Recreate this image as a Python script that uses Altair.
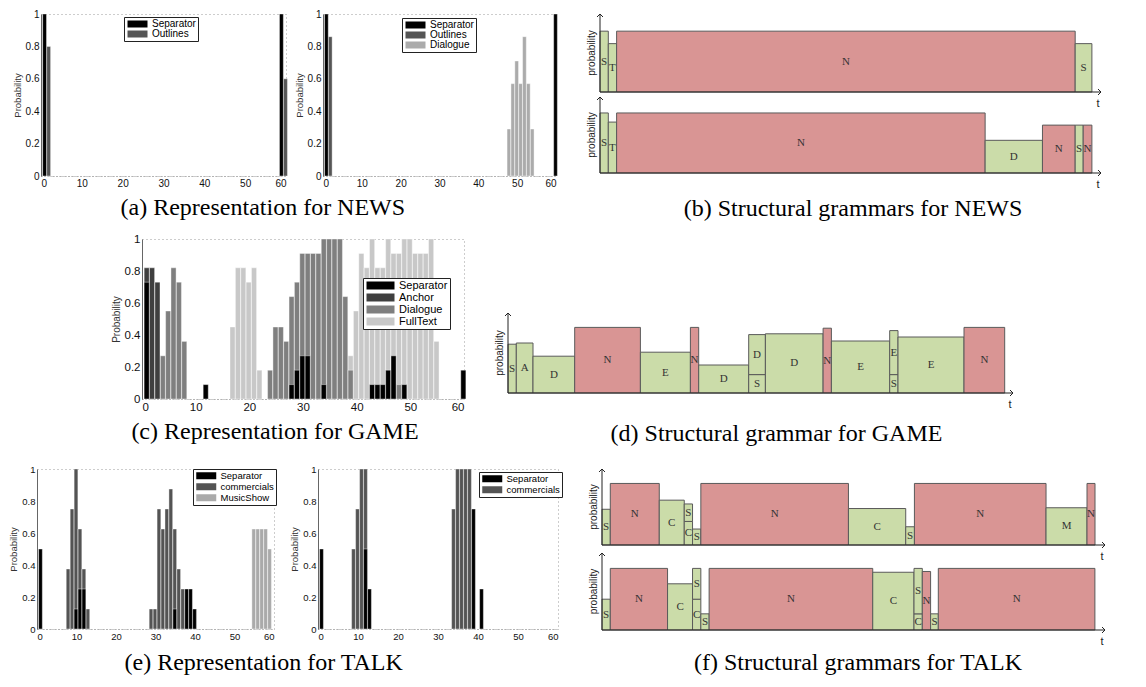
import altair as alt
import pandas as pd

SANS = "Liberation Sans"
SERIF = "Liberation Serif"

# ---------------- bar-chart data (bin index -> probability) ----------------
# (a) NEWS, left panel
a1_sep_bins = [1, 59]
a1_sep_p = [1.0, 1.0]
a1_out_bins = [2, 60]
a1_out_p = [0.8, 0.6]
# (a) NEWS, right panel
a2_sep_bins = [1, 60]
a2_sep_p = [1.0, 1.0]
a2_out_bins = [2]
a2_out_p = [0.86]
a2_dia_bins = [48, 49, 50, 51, 52, 53, 54]
a2_dia_p = [0.29, 0.57, 0.71, 0.57, 0.86, 0.57, 0.29]
# (c) GAME
c_sep_bins = [1, 12, 28, 29, 30, 31, 34, 43, 44, 45, 46, 47, 49, 60]
c_sep_p = [0.73, 0.09, 0.09, 0.18, 0.27, 0.27, 0.09, 0.09, 0.09, 0.09, 0.18, 0.27, 0.09, 0.18]
c_anc_bins = [1, 2, 3]
c_anc_p = [0.82, 0.82, 0.73]
c_dia_bins = [4, 5, 6, 7, 8, 24, 25, 26, 27, 28, 29, 30, 31, 32, 33, 34, 35, 36, 37, 38, 39, 48]
c_dia_p = [0.27, 0.55, 0.82, 0.73, 0.36, 0.18, 0.45, 0.45, 0.36, 0.64, 0.73, 0.91, 0.91, 0.91,
           0.91, 1.0, 1.0, 1.0, 1.0, 0.64, 0.18, 0.09]
c_ful_bins = [17, 18, 19, 20, 21, 22, 39, 40, 41, 42, 43, 44, 45, 46, 47, 48, 49, 50, 51, 52,
              53, 54, 55]
c_ful_p = [0.45, 0.82, 0.82, 0.73, 0.82, 0.18, 0.27, 0.55, 0.91, 0.82, 1.0, 0.82, 0.82, 1.0,
           0.91, 0.91, 1.0, 1.0, 0.91, 0.91, 0.91, 1.0, 0.36]
# (e) TALK, left panel
e1_sep_bins = [1, 10, 11, 12, 35, 38, 39, 40]
e1_sep_p = [0.5, 0.125, 0.25, 0.25, 0.125, 0.25, 0.25, 0.125]
e1_com_bins = [8, 9, 10, 11, 12, 13, 29, 30, 31, 32, 33, 34, 35, 36, 37, 38, 39, 40]
e1_com_p = [0.375, 0.75, 1.0, 0.625, 0.375, 0.125, 0.125, 0.125, 0.75, 0.625, 0.75, 0.875,
            0.625, 0.375, 0.25, 0.25, 0.125, 0.125]
e1_mus_bins = [55, 56, 57, 58, 59]
e1_mus_p = [0.625, 0.625, 0.625, 0.625, 0.5]
# (e) TALK, right panel
e2_sep_bins = [1, 12, 13, 39, 41]
e2_sep_p = [0.5, 0.5, 0.25, 0.75, 0.25]
e2_com_bins = [9, 10, 11, 12, 34, 35, 36, 37, 38]
e2_com_p = [0.5, 0.75, 1.0, 1.0, 0.75, 1.0, 1.0, 1.0, 1.0]

x_ticks = [0, 10, 20, 30, 40, 50, 60]
y_ticks = [0, 0.2, 0.4, 0.6, 0.8, 1.0]

# ---------------- structural grammar data ----------------
# labels, column index (stacked items share a column), column durations, probabilities
b1_labels = ["S", "T", "N", "S"]
b1_cols = [0, 1, 2, 3]
b1_dur = [8.3, 8.3, 458.3, 16.7]
b1_prob = [0.78, 0.62, 0.78, 0.62]
b_tmax = 500.7

b2_labels = ["S", "T", "N", "D", "N", "S", "N"]
b2_cols = [0, 1, 2, 3, 4, 5, 6]
b2_dur = [8.3, 8.3, 368.3, 57.3, 32.7, 8.0, 8.7]
b2_prob = [0.79, 0.67, 0.79, 0.43, 0.63, 0.63, 0.63]

d_labels = ["S", "A", "D", "N", "E", "N", "D", "S", "D", "D", "N", "E", "S", "E", "E", "N"]
d_cols = [0, 1, 2, 3, 4, 5, 6, 7, 7, 8, 9, 10, 11, 11, 12, 13]
d_dur = [8.3, 16.7, 41.7, 65.7, 50, 8.3, 50, 16.7, 57.7, 8.3, 58.3, 8.3, 66, 40.7]
d_prob = [0.61, 0.625, 0.46, 0.82, 0.51, 0.82, 0.35, 0.23, 0.50, 0.74, 0.81, 0.65, 0.23, 0.55,
          0.70, 0.82]
d_tmax = 505.0

f1_labels = ["S", "N", "C", "C", "S", "S", "N", "C", "S", "N", "M", "N"]
f1_cols = [0, 1, 2, 3, 3, 4, 5, 6, 7, 8, 9, 10]
f1_dur = [8.3, 49, 25, 8.3, 8.3, 147.7, 57.3, 8.7, 131.7, 41, 8]
f1_prob = [0.47, 0.81, 0.59, 0.31, 0.23, 0.21, 0.81, 0.48, 0.24, 0.81, 0.49, 0.81]

f2_labels = ["S", "N", "C", "C", "S", "S", "N", "C", "C", "S", "N", "S", "N"]
f2_cols = [0, 1, 2, 3, 3, 4, 5, 6, 7, 7, 8, 9, 10]
f2_dur = [8.3, 57.3, 25, 8.3, 8.3, 163.7, 41.3, 8.3, 8.3, 7.7, 156.7]
f2_prob = [0.40, 0.80, 0.60, 0.40, 0.40, 0.21, 0.80, 0.75, 0.21, 0.59, 0.76, 0.21, 0.80]
f_tmax = 503.3

# ---------------- styles ----------------
C_SEP = "#000000"
C_OUT = "#555555"
C_DIA_A = "#ababab"
C_ANC = "#3f3f3f"
C_DIA_C = "#7f7f7f"
C_FUL = "#c8c8c8"
C_COM = "#545454"
C_MUS = "#aaaaaa"
GREEN = "#cbdca9"
RED = "#d99594"
EDGE = "#5a5a5a"
AXC = "#222222"


def legend_params(sym_w, sym_h, font_size, lx, ly):
    half = sym_w / sym_h
    path = f"M-{half:.3f},-1H{half:.3f}V1H-{half:.3f}Z"
    shift = (sym_w - sym_h) / 2
    return alt.Legend(
        title=None, orient="none", legendX=lx, legendY=ly,
        symbolType=path, symbolSize=sym_h * sym_h, symbolStrokeWidth=0,
        symbolOffset=shift, labelOffset=shift + 3,
        labelFont=SANS, labelFontSize=font_size, labelColor="#000",
        strokeColor="#222", fillColor="white", padding=2, rowPadding=0,
        offset=0, cornerRadius=0, labelLimit=200,
    )


def bar_panel(series, width, height, lab_fs, ttl_fs, legend):
    names = [s[0] for s in series]
    colors = [s[3] for s in series]
    rows = []
    for k in range(len(series) - 1, -1, -1):  # back to front: Separator last
        name, bins, probs, _ = series[k]
        for b, p in zip(bins, probs):
            rows.append({"cat": name, "lo": b - 0.6, "hi": b + 0.35, "p": p})
    df = pd.DataFrame(rows)
    return alt.Chart(df).mark_rect(stroke="white", strokeWidth=0.4).encode(
        x=alt.X("lo:Q", scale=alt.Scale(domain=[0, 60], nice=False, zero=False),
                axis=alt.Axis(values=x_ticks, title=None, labelFont=SANS, labelFontSize=lab_fs,
                              labelColor="#111", ticks=False, grid=False, domainColor="#999",
                              domainDash=[1, 2], labelPadding=2)),
        x2="hi:Q",
        y=alt.Y("p:Q", scale=alt.Scale(domain=[0, 1], nice=False),
                axis=alt.Axis(values=y_ticks, format="~g", title="Probability",
                              titleFont=SANS, titleFontSize=ttl_fs, titleFontWeight="normal",
                              titleColor="#333", titlePadding=3, labelFont=SANS,
                              labelFontSize=lab_fs, labelColor="#111", ticks=False, grid=False,
                              domainColor="#666", labelPadding=2)),
        y2=alt.datum(0),
        color=alt.Color("cat:N", scale=alt.Scale(domain=names, range=colors), legend=legend),
    ).properties(width=width, height=height,
                 view=alt.ViewBackground(stroke="#9a9a9a", strokeDash=[1, 3], strokeWidth=1))


def grammar_panel(labels, cols, durs, probs, tmax, width, height, ymax):
    starts = [0.0]
    for w in durs:
        starts.append(starts[-1] + w)
    stack = {}
    rows = []
    for lab, col, p in zip(labels, cols, probs):
        y0 = stack.get(col, 0.0)
        y1 = y0 + p
        stack[col] = y1
        x0, x1 = starts[col], starts[col] + durs[col]
        rows.append({"label": lab, "x0": x0, "x1": x1, "y0": y0, "y1": y1,
                     "xm": (x0 + x1) / 2, "ym": (y0 + y1) / 2,
                     "fill": RED if lab == "N" else GREEN})
    df = pd.DataFrame(rows)
    ax = pd.DataFrame({"x0": [0.0], "x1": [tmax], "y0": [0.0], "y1": [1.0], "ym": [0.5]})
    xs = alt.Scale(domain=[0, tmax], nice=False, zero=False)
    ys = alt.Scale(domain=[0, ymax], nice=False, zero=False)

    def X(f):
        return alt.X(f, scale=xs, axis=None)

    def Y(f):
        return alt.Y(f, scale=ys, axis=None)

    rect = alt.Chart(df).mark_rect(stroke=EDGE, strokeWidth=1).encode(
        x=X("x0:Q"), x2="x1:Q", y=Y("y0:Q"), y2="y1:Q", fill=alt.Fill("fill:N", scale=None))
    txt = alt.Chart(df).mark_text(font=SERIF, fontSize=11, color="#333").encode(
        x=X("xm:Q"), y=Y("ym:Q"), text="label:N")
    xrule = alt.Chart(ax).mark_rule(color=AXC, strokeWidth=1).encode(
        x=X("x0:Q"), x2="x1:Q", y=Y("y0:Q"))
    yrule = alt.Chart(ax).mark_rule(color=AXC, strokeWidth=1).encode(
        x=X("x0:Q"), y=Y("y0:Q"), y2="y1:Q")
    up = alt.Chart(ax).mark_point(shape="M-1,1L0,0L1,1", size=36, filled=False, color=AXC,
                                  opacity=1, strokeWidth=1).encode(x=X("x0:Q"), y=Y("y1:Q"))
    right = alt.Chart(ax).mark_point(shape="M-1,-1L0,0L-1,1", size=36, filled=False, color=AXC,
                                     opacity=1, strokeWidth=1).encode(x=X("x1:Q"), y=Y("y0:Q"))
    ylab = alt.Chart(ax).mark_text(text="probability", angle=270, baseline="bottom", dy=-3,
                                   font=SANS, fontSize=10, color="#222").encode(
        x=X("x0:Q"), y=Y("ym:Q"))
    tlab = alt.Chart(ax).mark_text(text="t", baseline="top", dy=6, dx=-3, font=SANS,
                                   fontSize=11, color="#222").encode(x=X("x1:Q"), y=Y("y0:Q"))
    return alt.layer(rect, txt, xrule, yrule, up, right, ylab, tlab).properties(
        width=width, height=height,
        view=alt.ViewBackground(stroke="transparent", strokeWidth=0))


def cap(text, offset, dx=0):
    return alt.TitleParams(text=text, orient="bottom", anchor="middle", offset=offset, dx=dx,
                           font=SERIF, fontSize=24, fontWeight="normal", color="#000")


def indep(ch):
    return ch.resolve_scale(color="independent").resolve_legend(color="independent")


# ---------------- panels ----------------
a1 = bar_panel([("Separator", a1_sep_bins, a1_sep_p, C_SEP),
                ("Outlines", a1_out_bins, a1_out_p, C_OUT)],
               245, 162, 10, 9.5, legend_params(20, 7, 10, 83, 3))
a2 = bar_panel([("Separator", a2_sep_bins, a2_sep_p, C_SEP),
                ("Outlines", a2_out_bins, a2_out_p, C_OUT),
                ("Dialogue", a2_dia_bins, a2_dia_p, C_DIA_A)],
               233, 162, 10, 9.5, legend_params(20, 7, 10, 79, 4))
c = bar_panel([("Separator", c_sep_bins, c_sep_p, C_SEP),
               ("Anchor", c_anc_bins, c_anc_p, C_ANC),
               ("Dialogue", c_dia_bins, c_dia_p, C_DIA_C),
               ("FullText", c_ful_bins, c_ful_p, C_FUL)],
              322, 160, 11.5, 10, legend_params(28, 8, 11, 221, 39))
e1 = bar_panel([("Separator", e1_sep_bins, e1_sep_p, C_SEP),
                ("commercials", e1_com_bins, e1_com_p, C_COM),
                ("MusicShow", e1_mus_bins, e1_mus_p, C_MUS)],
               237, 160, 9.5, 9.5, legend_params(20, 7, 9.5, 156, 0))
e2 = bar_panel([("Separator", e2_sep_bins, e2_sep_p, C_SEP),
                ("commercials", e2_com_bins, e2_com_p, C_COM)],
               240, 160, 9.5, 9.5, legend_params(20, 7, 9.5, 161, 3))

b1 = grammar_panel(b1_labels, b1_cols, b1_dur, b1_prob, b_tmax, 501, 78, 1.0)
b2 = grammar_panel(b2_labels, b2_cols, b2_dur, b2_prob, b_tmax, 501, 76, 1.0)
d = grammar_panel(d_labels, d_cols, d_dur, d_prob, d_tmax, 505, 154, 154 / 80)
f1 = grammar_panel(f1_labels, f1_cols, f1_dur, f1_prob, f_tmax, 503, 76, 1.0)
f2 = grammar_panel(f2_labels, f2_cols, f2_dur, f2_prob, f_tmax, 503, 77, 1.0)

# invisible spacer that indents the GAME row
spacer = alt.Chart(pd.DataFrame({"v": [0]})).mark_rule(opacity=0).encode(
    x=alt.X(datum=0, scale=alt.Scale(domain=[0, 1], nice=False), axis=None),
    x2=alt.datum(1),
    y=alt.Y(datum=0, axis=None),
).properties(width=61, height=1, view=alt.ViewBackground(stroke="transparent", strokeWidth=0))

A = indep(alt.hconcat(a1, a2, spacing=37, bounds="flush")).properties(
    title=cap("(a) Representation for NEWS", 7, -22))
B = alt.vconcat(b1, b2, spacing=5, bounds="flush").properties(
    title=cap("(b) Structural grammars for NEWS", 7, 8))
row1 = indep(alt.hconcat(A, B, spacing=27))

C = c.properties(title=cap("(c) Representation for GAME", 7, -28))
D = d.properties(title=cap("(d) Structural grammar for GAME", 12, 16))
row2 = indep(alt.hconcat(spacer, C, D, spacing=44, bounds="flush"))

E = indep(alt.hconcat(e1, e2, spacing=44, bounds="flush")).properties(
    title=cap("(e) Representation for TALK", 10, -22))
F = alt.vconcat(f1, f2, spacing=8, bounds="flush").properties(
    title=cap("(f) Structural grammars for TALK", 4, 10))
row3 = indep(alt.hconcat(E, F, spacing=25))

lower = indep(alt.vconcat(row2, row3, spacing=17))
chart = indep(alt.vconcat(row1, lower, spacing=11, center=True)).properties(
    padding=0).configure_view(strokeWidth=0).configure(font=SANS)

chart.save("out.html", embed_options={"renderer": "svg", "actions": False})
